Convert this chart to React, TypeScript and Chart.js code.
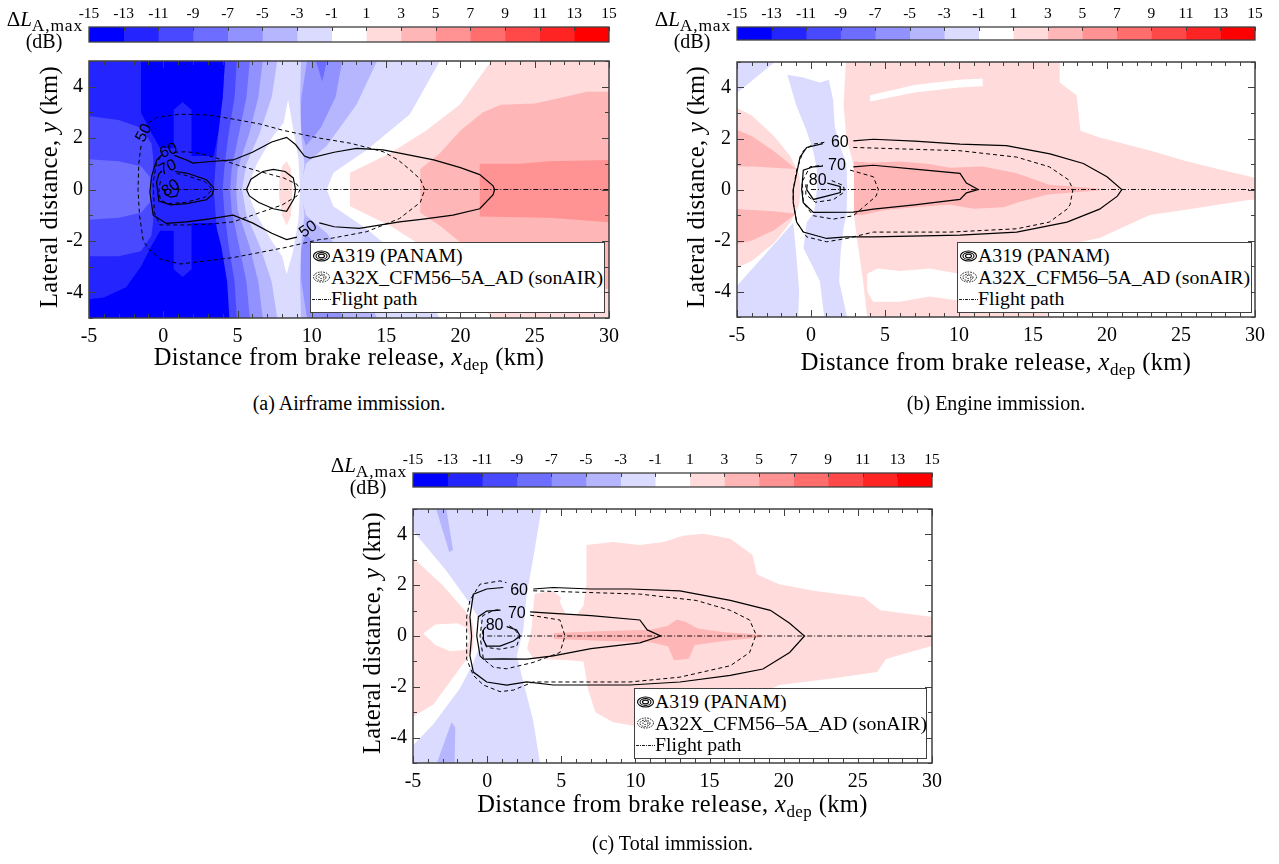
import React, { useEffect, useRef } from 'react';
import { Chart, registerables } from 'chart.js';
Chart.register(...registerables);

// ---------- colour scale ----------
const CB_EDGES = [-15, -13, -11, -9, -7, -5, -3, -1, 1, 3, 5, 7, 9, 11, 13, 15];
const CB_COLORS = ['#0000ff', '#2424ff', '#4949ff', '#6d6dff', '#9292ff', '#b6b6ff', '#dbdbff', '#ffffff',
  '#ffdbdb', '#ffb6b6', '#ff9292', '#ff6d6d', '#ff4949', '#ff2424', '#ff0000'];
const X_TICKS = [-5, 0, 5, 10, 15, 20, 25, 30];
const Y_TICKS = [-4, -2, 0, 2, 4];
const LEGEND_ITEMS = ['A319 (PANAM)', 'A32X_CFM56\u20135A_AD (sonAIR)', 'Flight path'];
const FLIGHT_PATH = [[0, 0], [30, 0]];

// ---------- panel (a) airframe: filled bands (x km, y km) ----------
const A_BG = [[-5.5, -5.5], [30.5, -5.5], [30.5, 5.5], [-5.5, 5.5]];
const A_PINK2 = [[17.3, 0.8], [18.6, 1.4], [20.0, 2.3], [21.5, 3.0], [22.7, 3.3], [25, 3.35], [27, 3.6], [28.5, 3.8], [30.5, 3.8], [30.5, -3.9], [27, -3.7], [24, -3.5], [22.5, -3.2], [20.5, -2.3], [18.6, -1.4], [17.3, -0.9]];
const A_PINK3 = [[21.3, 1.0], [24, 1.0], [26, 1.1], [30.5, 1.15], [30.5, -1.3], [26, -1.1], [21.3, -1.05]];
const A_WHITE = [[22.7, 5.5], [19.97, 3.31], [17.7, 2.3], [15.26, 1.41], [12.57, 0.65], [12.57, -0.65], [15.26, -1.41], [17.7, -2.3], [19.97, -3.31], [22.7, -5.5], [-5.5, -5.5], [-5.5, 5.5]];
const A_LAV = [[19.1, 5.5], [16.6, 2.93], [13.69, 1.54], [11.45, 0.65], [11.0, 0], [11.45, -0.65], [13.69, -1.54], [16.6, -2.93], [19.1, -5.5], [-5.5, -5.5], [-5.5, 5.5]];
const A_B6 = [[14.8, 5.5], [13.0, 3.3], [11.0, 1.7], [9.6, 1.0], [9.3, 0.3], [9.3, -0.3], [9.6, -1.0], [11.0, -1.7], [13.0, -3.3], [14.8, -5.5], [-5.5, -5.5], [-5.5, 5.5]];
const A_WEDGE_UP = [[9.8, 5.5], [12.2, 5.5], [11.6, 3.6], [10.6, 2.4], [9.6, 1.7], [9.2, 2.4], [9.3, 3.6]];
const A_WEDGE_LO = [[9.8, -5.5], [12.2, -5.5], [11.6, -3.6], [10.6, -2.4], [9.6, -1.7], [9.2, -2.4], [9.3, -3.6]];
const A_WEDGE_CORE = [[10.0, 5.5], [11.2, 5.5], [10.7, 4.2]];
const A_HALO = [[7.6, 5.5], [9.3, 5.5], [9.2, 3.5], [9.3, 2.0], [9.5, 1.0], [9.3, 0], [9.5, -1.0], [9.3, -2.0], [9.2, -3.5], [9.3, -5.5], [7.6, -5.5], [6.0, -2.5], [5.3, -0.5], [5.3, 0.5], [6.0, 2.5]];
const A_ISLAND = [[5.6, 0], [6.3, 1.0], [7.3, 2.0], [8.1, 2.6], [8.4, 3.5], [8.7, 2.5], [9.1, 1.2], [9.2, 0], [9.1, -1.2], [8.7, -2.5], [8.3, -3.3], [8.0, -2.6], [7.3, -2.0], [6.3, -1.0]];
const A_ISLAND_PINK = [[7.8, 0.3], [8.0, 0.9], [8.3, 1.1], [8.6, 0.8], [8.7, 0], [8.6, -1.0], [8.3, -1.4], [8.0, -1.0], [7.8, -0.3]];
const A_D2 = [[7.8, 5.5], [7.3, 3.6], [6.5, 2.2], [5.6, 1.0], [5.3, 0], [5.6, -1.0], [6.5, -2.2], [7.3, -3.6], [7.8, -5.5], [-5.5, -5.5], [-5.5, 5.5]];
const A_D3 = [[6.8, 5.5], [6.4, 3.6], [5.8, 2.2], [5.0, 0.8], [4.9, 0], [5.0, -0.8], [5.8, -2.2], [6.4, -3.6], [6.8, -5.5], [-5.5, -5.5], [-5.5, 5.5]];
const A_D4 = [[5.9, 5.5], [5.6, 3.6], [5.1, 2.2], [4.6, 0.8], [4.5, 0], [4.6, -0.8], [5.1, -2.2], [5.6, -3.6], [5.9, -5.5], [-5.5, -5.5], [-5.5, 5.5]];
const A_D5 = [[5.0, 5.5], [4.8, 3.6], [4.4, 2.2], [4.1, 0.8], [4.0, 0], [4.1, -0.8], [4.4, -2.2], [4.8, -3.6], [5.0, -5.5], [-5.5, -5.5], [-5.5, 5.5]];
const A_D6 = [[4.2, 5.5], [4.0, 3.6], [3.7, 2.2], [3.5, 0.8], [3.4, 0], [3.5, -0.8], [3.7, -2.2], [4.0, -3.6], [4.3, -5.5], [-5.5, -5.5], [-5.5, 5.5]];
const A_LC1 = [[-5.5, 2.9], [-3, 2.7], [-1.5, 2.4], [-0.8, 1.8], [-0.6, 0.9], [-0.6, -0.9], [-0.8, -1.8], [-1.5, -2.4], [-3, -2.6], [-5.5, -2.6]];
const A_LC2 = [[-5.5, 1.2], [-3, 1.1], [-1.5, 0.9], [-0.9, 0.5], [-0.9, -0.5], [-1.5, -0.9], [-3, -1.1], [-5.5, -1.2]];
const A_DB_TOP = [[-1.5, 5.5], [4.2, 5.5], [4.0, 3.6], [3.7, 2.2], [3.4, 1.3], [1.9, 1.3], [1.9, 3.1], [1.3, 3.4], [0.7, 3.1], [0.7, 1.6], [-0.2, 1.6], [-0.8, 2.2], [-1.5, 3.0]];
const A_DB_BOT = [[-5.5, -5.5], [4.5, -5.5], [4.3, -3.6], [3.9, -2.2], [3.5, -1.3], [1.9, -1.3], [1.9, -3.1], [1.3, -3.4], [0.7, -3.1], [0.7, -1.6], [-0.2, -1.6], [-0.8, -2.2], [-1.5, -3.0], [-2.5, -3.8], [-4, -4.2], [-5.5, -4.3]];
const A_CC = [[-0.6, 1.6], [0.7, 1.6], [1.9, 1.3], [3.4, 1.3], [3.4, -1.3], [1.9, -1.3], [0.7, -1.6], [-0.6, -1.6], [-0.8, 0]];

// panel (a) contour lines (null = gap for a label)
const A_SOL_OUT = [[0.75, 1.33], [1.57, 1.15], [2.0, 1.03], [3.0, 1.08], [4.7, 1.15], [6.0, 1.45], [7.3, 1.85], [8.3, 2.03], [8.9, 1.75], [9.5, 1.3], [9.87, 1.22], [11.5, 1.45], [13.0, 1.6], [14.8, 1.54], [16.5, 1.35], [18.2, 1.15], [20.0, 0.85], [21.3, 0.58], [22.2, 0.14], [22.3, 0], [22.2, -0.2], [21.3, -0.75], [19.5, -1.0], [17.5, -1.15], [15.9, -1.26], [13.2, -1.51], [11.5, -1.45], [10.5, -1.3], null, [9.0, -1.85], [8.3, -1.95], [7.3, -1.7], [6.0, -1.3], [4.7, -1.0], [3.0, -1.15], [1.57, -1.26], [0.22, -1.32], [-0.68, -1.0], [-0.9, -0.1], [-0.78, 0.52], [-0.45, 1.15], [-0.1, 1.35]];
const A_DASH_50 = [[-1.5, 1.7], [-1.65, 1.0], [-1.7, 0], [-1.6, -1.0], [-1.35, -2.0], [-1.0, -2.3], [-0.22, -2.7], [1.12, -2.9], [4.7, -2.65], [8.1, -2.27], [10.5, -1.95], [11.4, -1.89], [13.7, -1.64], [15.9, -1.13], [17.3, -0.5], [17.6, 0], [17.3, 0.4], [16.6, 0.77], [15.8, 1.15], [14.8, 1.47], [12.6, 1.8], [10.5, 2.0], [8.08, 2.3], [6.5, 2.55], [4.7, 2.74], [3, 2.9], [1.12, 2.93], [-0.45, 2.8], [-1.0, 2.6]];
const A_DASH_60 = [[0.75, 1.45], [1.57, 1.47], [2.5, 1.4], [3.6, 1.22], [5.0, 0.95], [6.5, 0.7], [8.1, 0.45], [9.0, 0.2], [9.2, 0], [9.0, -0.25], [8.0, -0.6], [6.5, -0.9], [4.7, -1.26], [3, -1.35], [1.57, -1.38], [-0.22, -1.38], [-0.6, -0.9], [-0.68, 0.27], [-0.45, 1.03], [-0.1, 1.35]];
const A_SOL_70 = [[0.8, 0.7], [1.57, 0.64], [2.9, 0.38], [3.4, 0.06], [3.3, -0.2], [2.9, -0.4], [1.57, -0.55], [0.5, -0.6], [-0.3, -0.45], [-0.45, 0.27], [-0.3, 0.6], [-0.1, 0.72]];
const A_DASH_70 = [[0.9, 0.62], [1.5, 0.55], [2.8, 0.3], [3.3, 0], [2.8, -0.3], [1.5, -0.5], [0.3, -0.55], [-0.2, -0.4], [-0.3, 0], [-0.15, 0.45]];
const A_SOL_ISL = [[5.6, 0], [5.9, 0.4], [6.7, 0.7], [7.4, 0.78], [8.2, 0.7], [8.75, 0.45], [8.9, 0], [8.8, -0.35], [8.3, -0.85], [7.4, -0.75], [6.4, -0.5], [5.8, -0.25], [5.6, 0]];
const A_SOL_80 = [[0.9, 0.25], [1.05, 0], [0.9, -0.25], [0.5, -0.3], [0.15, -0.2], [0.05, 0]];

// ---------- panel (b) engine ----------
const B_BG = [[-5.5, -5.5], [30.5, -5.5], [30.5, 5.5], [-5.5, 5.5]];
const B_WHITE_UR = [[16.8, 5.5], [16.8, 4.2], [17.95, 3.7], [18.2, 2.3], [19.5, 2.04], [22.9, 1.53], [25.2, 1.14], [27.5, 0.8], [29.7, 0.5], [30.5, 0.38], [30.5, 5.5]];
const B_WHITE_LR = [[30.5, -0.4], [29.7, -0.4], [27.5, -0.6], [25.2, -0.8], [22.9, -1.0], [21, -1.5], [19.5, -1.9], [17, -2.2], [16, -2.4], [16, -5.5], [30.5, -5.5]];
const B_WHITE_LM = [[3.8, -3.3], [4.5, -3.1], [6, -3.2], [8, -3.1], [10, -3.3], [12, -3.2], [16, -3.0], [16, -4.6], [12, -4.6], [10, -4.35], [8, -4.2], [6, -4.4], [4.2, -4.4], [3.8, -4.0]];
const B_WHITE_STREAK = [[4.0, 3.45], [7, 3.8], [10, 4.0], [11.6, 4.05], [11.6, 4.35], [10, 4.3], [7, 4.1], [4.0, 3.7]];
const B_WHITE_LEFT = [[-5.5, 5.5], [2.4, 5.5], [2.2, 3.3], [2.4, 2.0], [2.86, 1.0], [3.0, 0], [2.9, -1.0], [3.2, -2.3], [3.5, -3.5], [3.9, -5.5], [-5.5, -5.5]];
const B_PINK_LEFT = [[-5.5, 3.35], [-4, 2.9], [-2.5, 2.1], [-1.4, 1.3], [-0.8, 0.6], [-0.7, 0], [-0.8, -0.6], [-1.4, -1.3], [-2.5, -2.1], [-4, -2.8], [-5.5, -3.2]];
const B_PINK2_UP = [[-5.5, 2.45], [-4, 2.1], [-2.5, 1.5], [-1.0, 0.8], [-2.5, 0.85], [-4, 0.9], [-5.5, 0.9]];
const B_PINK2_LO = [[-5.5, -0.75], [-4, -0.8], [-2.5, -0.85], [-1.0, -0.95], [-2.5, -1.6], [-4, -2.0], [-5.5, -2.2]];
const B_LAV_TL = [[-5.5, 5.5], [-1.4, 5.5], [-5.5, 3.55]];
const B_LAV_BL = [[-5.5, -5.5], [-0.9, -5.5], [-0.8, -4.0], [-1.0, -2.5], [-1.2, -1.3], [-5.5, -4.1]];
const B_LAV_FLAME = [[-1.6, 4.5], [-0.6, 4.4], [0.6, 4.2], [1.2, 4.3], [1.5, 3.5], [1.6, 2.5], [1.9, 1.8], [2.4, 1.0], [2.45, 0], [2.4, -1.0], [2.2, -1.5], [2.0, -2.5], [1.9, -3.6], [2.4, -4.9], [2.5, -5.5], [1.0, -5.5], [0.6, -3.6], [-0.5, -2.3], [-0.3, -1.3], [0.2, -0.9], [0.4, 0], [0.4, 0.8], [0.15, 1.5], [-0.3, 2.3], [-1.0, 3.3]];
const B_PINK2_C = [[2.9, 1.1], [4, 1.05], [6, 1.1], [8, 1.0], [9.4, 0.85], [11.6, 0.9], [13.9, 0.64], [16.1, 0.19], [19.5, 0.03], [19.5, -0.03], [16, -0.2], [14, -0.5], [13, -0.7], [11, -0.75], [9.4, -0.6], [7, -0.7], [5, -0.8], [3.5, -1.0], [2.9, -1.0]];

const B_SOL_60 = [[2.86, 1.91], [4.21, 1.97], [7, 1.9], [10.07, 1.78], [13.2, 1.72], [16.15, 1.4], [18.4, 1.02], [20.0, 0.5], [21.0, 0], [20.7, -0.26], [19.5, -0.77], [17.3, -1.28], [13.9, -1.67], [10.07, -1.79], [4.21, -1.86], [2.41, -1.86], [1.06, -1.92], [-0.52, -1.67], [-0.97, -1.28], [-1.2, -0.52], [-1.2, 0], [-0.97, 0.63], [-0.74, 1.27], [-0.29, 1.65], [0.8, 1.8]];
const B_DASH_60 = [[2.86, 1.65], [10.07, 1.52], [13.9, 1.27], [16.1, 0.89], [17.4, 0.38], [17.7, 0], [17.5, -0.6], [17.3, -0.77], [16.1, -1.28], [13.9, -1.54], [9.4, -1.67], [4.21, -1.67], [2.41, -1.92], [1.06, -2.05], [-0.29, -1.86], [-0.97, -1.28], [-1.2, -0.5], [-1.2, 0], [-0.97, 0.76], [-0.52, 1.52], [0.16, 1.78], [0.9, 1.85]];
const B_SOL_70 = [[2.86, 0.89], [4.21, 0.95], [7, 0.8], [10.07, 0.63], [10.5, 0.25], [11.3, 0], [10.5, -0.13], [10.07, -0.39], [7, -0.6], [4.21, -0.77], [2.86, -0.89], [0.16, -0.9], [-0.52, -0.52], [-0.63, 0], [-0.52, 0.76], [0.16, 0.89], [0.8, 0.92]];
const B_DASH_70 = [[2.64, 0.76], [4.21, 0.5], [4.55, 0], [4.4, -0.26], [2.86, -1.03], [1.51, -1.16], [0.16, -1.03], [-0.52, -0.52], [-0.6, 0.3], [-0.07, 0.89], [0.8, 0.95]];
const B_SOL_80 = [[1.1, 0.25], [1.96, 0.12], [2.0, 0], [1.96, -0.12], [1.06, -0.26], [0.16, -0.39], [-0.29, 0], [-0.25, 0.2]];
const B_DASH_80 = [[1.4, 0.35], [2.2, 0.15], [2.25, -0.1], [1.5, -0.4], [0.3, -0.5], [-0.35, -0.2], [-0.35, 0.2]];

// ---------- panel (c) total ----------
const C_BG = [[-5.5, -5.5], [30.5, -5.5], [30.5, 5.5], [-5.5, 5.5]];
const C_PINK_RIGHT = [[3.2, 1.65], [4.46, 1.78], [5.0, 1.5], [6.7, 2.0], [6.7, 3.58], [8.5, 3.7], [10.3, 3.58], [11.9, 3.7], [13.2, 3.95], [14.6, 4.03], [16.4, 3.83], [17.9, 3.19], [18.2, 2.42], [19.7, 2.04], [22.0, 1.78], [25.4, 1.53], [26.5, 1.01], [29.9, 0.76], [30.5, 0.76], [30.5, -0.4], [29.9, -0.4], [26.9, -0.91], [26.3, -1.42], [23.1, -1.68], [19.7, -1.93], [18, -2.4], [15, -2.9], [13, -3.4], [10.5, -3.6], [8.5, -3.4], [7.3, -3.0], [6.8, -2.1], [6.5, -1.0], [5.5, -0.95], [3.1, -0.9], [2.7, -0.5], [3.0, 0.3]];
const C_NOTCH = [[4.9, 1.35], [5.3, 0.85], [6.0, 0.8], [6.5, 1.2], [6.7, 2.1], [5.4, 2.2]];
const C_LAV = [[-5.5, 5.5], [3.8, 5.5], [3.11, 3.07], [2.67, 1.65], [2.44, 0.24], [2.0, -0.78], [2.44, -1.81], [3.11, -3.35], [3.7, -5.5], [-5.5, -5.5], [-5.5, -4.6], [-3.63, -3.47], [-1.83, -2.06], [-0.93, -1.04], [-0.5, -0.4], [-0.4, 0.3], [-0.48, 0.63], [-1.16, 1.27], [-2.73, 2.55], [-5.5, 4.5]];
const C_PINK_LEFT = [[-5.5, 3.35], [-3, 2.0], [-1.5, 1.0], [-1.0, 0.6], [-0.9, 0], [-1.0, -0.6], [-1.38, -0.91], [-3.63, -2.7], [-5.5, -3.35]];
const C_WHITE_BLOB = [[-4.3, 0.1], [-3.5, 0.45], [-2.0, 0.5], [-1.3, 0.3], [-1.2, -0.2], [-1.5, -0.55], [-2.5, -0.6], [-3.5, -0.35]];
const C_STREAK_UP = [[-3.7, 5.5], [-2.9, 5.5], [-2.3, 3.4], [-2.55, 3.3]];
const C_STREAK_LO = [[-3.7, -5.5], [-2.2, -5.5], [-2.15, -3.6], [-2.4, -3.4]];
const C_PINK2 = [[4.5, 0.12], [8, 0.2], [11, 0.25], [12.2, 0.4], [12.8, 0.65], [13.4, 0.55], [14.2, 0.3], [16, 0.15], [18.5, 0.05], [18.5, -0.05], [16, -0.2], [14, -0.35], [13.6, -0.9], [12.6, -0.95], [12.2, -0.4], [11, -0.25], [8, -0.2], [4.5, -0.12]];

const C_SOL_60 = [[3.11, 1.85], [4.46, 1.91], [7, 1.85], [9.63, 1.85], [13.0, 1.78], [16.4, 1.4], [19.1, 1.01], [20.4, 0.5], [21.4, 0], [20.4, -0.65], [18.6, -1.3], [16.4, -1.55], [13.0, -1.81], [9.63, -1.93], [4.46, -1.93], [2.67, -1.81], [1.32, -1.93], [-0.03, -1.81], [-0.93, -1.42], [-1.16, -0.78], [-1.05, 0], [-1.16, 0.76], [-0.93, 1.65], [-0.03, 1.85], [1.09, 1.91]];
const C_DASH_60 = [[3.11, 1.78], [10.3, 1.65], [14.1, 1.4], [16.4, 1.01], [17.7, 0.63], [18.1, 0.1], [18.1, 0], [17.7, -0.65], [16.4, -1.17], [13.0, -1.62], [9.63, -1.81], [4.46, -1.81], [3.11, -1.81], [1.77, -2.13], [0.87, -2.19], [-0.25, -1.93], [-0.93, -1.55], [-1.38, -0.91], [-1.38, 0], [-1.38, 0.76], [-1.16, 1.4], [-0.48, 2.04], [0.87, 2.17], [1.3, 2.1]];
const C_SOL_70 = [[2.9, 0.95], [4.46, 0.89], [7, 0.8], [10.3, 0.63], [10.8, 0.24], [11.7, 0.0], [10.3, -0.27], [7, -0.5], [4.46, -0.78], [2.67, -0.91], [1.0, -0.9], [-0.25, -0.91], [-0.48, -0.78], [-0.7, 0], [-0.59, 0.76], [-0.03, 0.98], [0.9, 1.02]];
const C_DASH_70 = [[2.9, 0.82], [4.91, 0.63], [5.25, 0], [4.91, -0.65], [3.11, -1.04], [1.32, -1.29], [0.42, -1.23], [-0.25, -0.91], [-0.48, 0], [-0.3, 0.8], [0.4, 1.0], [0.9, 1.05]];
const C_SOL_80 = [[1.32, 0.37], [1.99, 0.24], [2.22, 0], [1.77, -0.2], [0.87, -0.4], [-0.03, -0.4], [-0.25, -0.15], [-0.25, 0.24], [-0.1, 0.35]];
const C_DASH_80 = [[1.5, 0.4], [1.77, 0.3], [2.22, 0.0], [1.99, -0.4], [0.87, -0.52], [-0.03, -0.45], [-0.3, -0.1], [-0.3, 0.3]];

// ---------- tables built from the arrays ----------
const A_FILLS = [
  { c: 8, p: A_BG }, { c: 9, p: A_PINK2 }, { c: 10, p: A_PINK3 }, { c: 7, p: A_WHITE }, { c: 6, p: A_LAV },
  { c: 5, p: A_B6 }, { c: 4, p: A_WEDGE_UP }, { c: 4, p: A_WEDGE_LO }, { c: 3, p: A_WEDGE_CORE },
  { c: 6, p: A_HALO }, { c: 7, p: A_ISLAND }, { c: 8, p: A_ISLAND_PINK },
  { c: 5, p: A_D2 }, { c: 4, p: A_D3 }, { c: 3, p: A_D4 }, { c: 2, p: A_D5 }, { c: 1, p: A_D6 },
  { c: 2, p: A_LC1 }, { c: 3, p: A_LC2 }, { c: 0, p: A_DB_TOP }, { c: 0, p: A_DB_BOT }, { c: 1, p: A_CC },
];
const A_LINES = [
  { p: A_SOL_OUT, d: false }, { p: A_DASH_50, d: true }, { p: A_DASH_60, d: true }, { p: A_SOL_70, d: false },
  { p: A_DASH_70, d: true }, { p: A_SOL_ISL, d: false }, { p: A_SOL_80, d: false },
];
const A_LABELS = [
  { t: '50', x: -1.3, y: 2.2, r: -62 }, { t: '60', x: 0.35, y: 1.5, r: -20 }, { t: '70', x: 0.3, y: 0.85, r: -25 },
  { t: '80', x: 0.5, y: 0.05, r: -35 }, { t: '50', x: 9.75, y: -1.55, r: -35 },
];
const B_FILLS = [
  { c: 8, p: B_BG }, { c: 7, p: B_WHITE_UR }, { c: 7, p: B_WHITE_LR }, { c: 7, p: B_WHITE_LM }, { c: 7, p: B_WHITE_STREAK },
  { c: 7, p: B_WHITE_LEFT }, { c: 8, p: B_PINK_LEFT }, { c: 9, p: B_PINK2_UP }, { c: 9, p: B_PINK2_LO },
  { c: 6, p: B_LAV_TL }, { c: 6, p: B_LAV_BL }, { c: 6, p: B_LAV_FLAME }, { c: 9, p: B_PINK2_C },
];
const B_LINES = [
  { p: B_SOL_60, d: false }, { p: B_DASH_60, d: true }, { p: B_SOL_70, d: false }, { p: B_DASH_70, d: true },
  { p: B_SOL_80, d: false }, { p: B_DASH_80, d: true },
];
const B_LABELS = [{ t: '60', x: 1.95, y: 1.82, r: 0 }, { t: '70', x: 1.75, y: 0.92, r: 0 }, { t: '80', x: 0.45, y: 0.33, r: 0 }];
const C_FILLS = [
  { c: 7, p: C_BG }, { c: 8, p: C_PINK_RIGHT }, { c: 7, p: C_NOTCH }, { c: 6, p: C_LAV }, { c: 8, p: C_PINK_LEFT },
  { c: 7, p: C_WHITE_BLOB }, { c: 5, p: C_STREAK_UP }, { c: 5, p: C_STREAK_LO }, { c: 9, p: C_PINK2 },
];
const C_LINES = [
  { p: C_SOL_60, d: false }, { p: C_DASH_60, d: true }, { p: C_SOL_70, d: false }, { p: C_DASH_70, d: true },
  { p: C_SOL_80, d: false }, { p: C_DASH_80, d: true },
];
const C_LABELS = [{ t: '60', x: 2.15, y: 1.8, r: 0 }, { t: '70', x: 2.0, y: 0.88, r: 0 }, { t: '80', x: 0.5, y: 0.42, r: 0 }];

// ---------- geometry (pixels) ----------
const GEOM_A = { L: 89, R: 609, T: 55, B: 318, CBT: 27, CBB: 42, lg: [310, 242, 295, 71], cap: '(a) Airframe immission.', capY: 403, yT: 49, xTb: 365 };
const GEOM_B = { L: 737, R: 1255, T: 56, B: 317, CBT: 27, CBB: 40, lg: [957, 242, 295, 71], cap: '(b) Engine immission.', capY: 403, yT: 696, xTb: 370 };
const GEOM_C = { L: 413, R: 932, T: 503, B: 763, CBT: 473, CBB: 487, lg: [634, 688, 293, 71], cap: '(c) Total immission.', capY: 843, yT: 372, xTb: 812 };

const SERIF = '"Liberation Serif", "Times New Roman", serif';

function toXY(pts) {
  const out = [];
  let prev = null;
  for (const p of pts) {
    if (p) { out.push({ x: p[0], y: p[1] }); prev = p; }
    else out.push({ x: prev ? prev[0] : 0, y: null });
  }
  return out;
}

function Panel({ g, fills, lines, labels }) {
  const mainRef = useRef(null);
  const cbRef = useRef(null);
  const cw = g.R - g.L + 90;
  const mainH = g.B - g.T + 52;
  const cbH = g.CBB - g.CBT + 34;

  useEffect(() => {
    const n = fills.length;
    const datasets = [];
    fills.forEach((f, i) => {
      datasets.push({
        data: toXY(f.p), fill: 'shape', backgroundColor: CB_COLORS[f.c], borderColor: 'rgba(0,0,0,0)',
        borderWidth: 0, pointRadius: 0, order: 100 + (n - i), spanGaps: false,
      });
    });
    lines.forEach((l) => {
      datasets.push({
        data: toXY(l.p), fill: false, borderColor: '#000', borderWidth: l.d ? 1 : 1.2,
        borderDash: l.d ? [4, 3] : [], pointRadius: 0, order: 2, spanGaps: false,
      });
    });
    datasets.push({
      data: toXY(FLIGHT_PATH), fill: false, borderColor: '#000', borderWidth: 0.9,
      borderDash: [5, 2, 1, 2], pointRadius: 0, order: 1,
    });

    const framePlugin = {
      id: 'mapFrame',
      afterDatasetsDraw(chart) {
        const { ctx, chartArea: a, scales } = chart;
        const xs = scales.x, ys = scales.y;
        ctx.save();
        ctx.font = '16px "Liberation Sans", Arial, sans-serif';
        ctx.fillStyle = '#000';
        ctx.textAlign = 'center';
        ctx.textBaseline = 'middle';
        for (const lb of labels) {
          ctx.save();
          ctx.translate(xs.getPixelForValue(lb.x), ys.getPixelForValue(lb.y));
          ctx.rotate((lb.r * Math.PI) / 180);
          ctx.fillText(lb.t, 0, 0);
          ctx.restore();
        }
        ctx.strokeStyle = '#404040';
        ctx.lineWidth = 1;
        ctx.beginPath();
        for (let v = -5; v <= 30; v += 1) {
          const px = Math.round(xs.getPixelForValue(v)) + 0.5;
          const len = v % 5 === 0 ? 7 : 4;
          ctx.moveTo(px, a.bottom); ctx.lineTo(px, a.bottom - len);
          ctx.moveTo(px, a.top); ctx.lineTo(px, a.top + len);
        }
        for (let v = -5; v <= 5; v += 1) {
          const py = Math.round(ys.getPixelForValue(v)) + 0.5;
          const len = v % 2 === 0 ? 7 : 4;
          ctx.moveTo(a.left, py); ctx.lineTo(a.left + len, py);
          ctx.moveTo(a.right, py); ctx.lineTo(a.right - len, py);
        }
        ctx.stroke();
        ctx.lineWidth = 1.5;
        ctx.strokeRect(a.left, a.top, a.right - a.left, a.bottom - a.top);
        ctx.restore();
      },
    };

    const tickFont = { family: SERIF, size: 20 };
    const main = new Chart(mainRef.current, {
      type: 'line',
      data: { datasets },
      options: {
        animation: false, responsive: false, devicePixelRatio: 1, events: [],
        layout: { padding: { left: 10, top: 12, right: 30, bottom: 0 } },
        plugins: { legend: { display: false }, tooltip: { enabled: false } },
        elements: { point: { radius: 0, hitRadius: 0 }, line: { tension: 0 } },
        scales: {
          x: {
            type: 'linear', min: -5, max: 30,
            afterBuildTicks: (s) => { s.ticks = X_TICKS.map((v) => ({ value: v })); },
            afterFit: (s) => { s.height = 40; },
            grid: { display: false, drawTicks: false }, border: { display: false },
            ticks: { font: tickFont, color: '#000', padding: 6.5, maxRotation: 0, autoSkip: false, callback: (v) => String(v) },
          },
          y: {
            type: 'linear', min: -5, max: 5,
            afterBuildTicks: (s) => { s.ticks = Y_TICKS.map((v) => ({ value: v })); },
            afterFit: (s) => { s.width = 50; },
            grid: { display: false, drawTicks: false }, border: { display: false },
            ticks: { font: tickFont, color: '#000', padding: 6, autoSkip: false, callback: (v) => String(v) },
          },
        },
      },
      plugins: [framePlugin],
    });

    const cbPlugin = {
      id: 'cbFrame',
      afterDatasetsDraw(chart) {
        const { ctx, chartArea: a, scales } = chart;
        ctx.save();
        ctx.strokeStyle = '#404040';
        ctx.lineWidth = 1;
        ctx.beginPath();
        for (const v of CB_EDGES) {
          const px = Math.round(scales.x.getPixelForValue(v)) + 0.5;
          ctx.moveTo(px, a.top); ctx.lineTo(px, a.top + 4);
        }
        ctx.stroke();
        ctx.lineWidth = 1.3;
        ctx.strokeRect(a.left, a.top, a.right - a.left, a.bottom - a.top);
        ctx.restore();
      },
    };
    const cb = new Chart(cbRef.current, {
      type: 'bar',
      data: {
        labels: ['dL'],
        datasets: CB_COLORS.map((c, i) => ({
          data: [[CB_EDGES[i], CB_EDGES[i + 1]]], backgroundColor: c, borderWidth: 0,
          grouped: false, barPercentage: 1, categoryPercentage: 1,
        })),
      },
      options: {
        indexAxis: 'y', animation: false, responsive: false, devicePixelRatio: 1, events: [],
        layout: { padding: { left: 60, right: 30, top: 0, bottom: 4 } },
        plugins: { legend: { display: false }, tooltip: { enabled: false } },
        scales: {
          x: {
            type: 'linear', position: 'top', min: -15, max: 15,
            afterBuildTicks: (s) => { s.ticks = CB_EDGES.map((v) => ({ value: v })); },
            afterFit: (s) => { s.height = 30; },
            grid: { display: false, drawTicks: false }, border: { display: false },
            ticks: { font: { family: SERIF, size: 15.5 }, color: '#000', padding: 4, maxRotation: 0, autoSkip: false, callback: (v) => String(v) },
          },
          y: { display: false },
        },
      },
      plugins: [cbPlugin],
    });
    return () => { main.destroy(); cb.destroy(); };
  }, []);

  const [lx, ly, lw, lh] = g.lg;
  const abs = { position: 'absolute' };
  const cx = (g.L + g.R) / 2;
  return (
    <>
      <canvas ref={cbRef} width={cw} height={cbH} style={{ ...abs, left: g.L - 60, top: g.CBT - 30, width: cw, height: cbH }} />
      <canvas ref={mainRef} width={cw} height={mainH} style={{ ...abs, left: g.L - 60, top: g.T - 12, width: cw, height: mainH }} />
      {/* colour-bar title */}
      <div style={{ ...abs, left: g.L - 110, width: 104, top: g.CBT - 18, textAlign: 'right', fontSize: 21, lineHeight: '20px', whiteSpace: 'nowrap' }}>
        {'\u0394'}<i>L</i><span style={{ fontSize: 17.5, letterSpacing: 0.8, position: 'relative', top: 4.5 }}>A,max</span>
      </div>
      <div style={{ ...abs, left: g.L - 72, width: 54, top: g.CBT + 4, textAlign: 'center', fontSize: 20, lineHeight: '20px' }}>(dB)</div>
      {/* y-axis title */}
      <div style={{ ...abs, left: g.yT - 170, top: (g.T + g.B) / 2 - 12, width: 340, textAlign: 'center', fontSize: 24.5, lineHeight: '24px', transform: 'rotate(-90deg)', whiteSpace: 'nowrap', letterSpacing: 0.4 }}>
        Lateral distance, <i>y</i> (km)
      </div>
      {/* x-axis title */}
      <div style={{ ...abs, left: cx - 260, width: 520, top: g.xTb - 20, textAlign: 'center', fontSize: 24.5, lineHeight: '24px', whiteSpace: 'nowrap', letterSpacing: 0.4 }}>
        Distance from brake release, <i>x</i><span style={{ fontSize: 17, position: 'relative', top: 5 }}>dep</span> (km)
      </div>
      {/* caption */}
      <div style={{ ...abs, left: cx - 200, width: 400, top: g.capY - 12, textAlign: 'center', fontSize: 20, lineHeight: '24px', whiteSpace: 'nowrap' }}>{g.cap}</div>
      {/* legend */}
      <div style={{ ...abs, left: lx, top: ly, width: lw, height: lh, boxSizing: 'border-box', border: '1.5px solid #404040', background: '#fff', paddingTop: 2, fontSize: 19.8 }}>
        {LEGEND_ITEMS.map((t, i) => (
          <div key={t} style={{ display: 'flex', alignItems: 'center', height: 21.5, lineHeight: '21.5px', whiteSpace: 'nowrap' }}>
            <svg width="19" height="14" style={{ flex: 'none', marginLeft: 1 }}>
              {i === 0 && (<g fill="none" stroke="#000" strokeWidth="1.1"><ellipse cx="9.5" cy="7" rx="8" ry="5" /><ellipse cx="9.5" cy="7" rx="5.5" ry="3.4" /><ellipse cx="9.5" cy="7" rx="3" ry="1.8" /></g>)}
              {i === 1 && (<g fill="none" stroke="#000" strokeWidth="0.9" strokeDasharray="1.6 1.1"><ellipse cx="9.5" cy="7" rx="8" ry="5" /><ellipse cx="9" cy="7.3" rx="5" ry="3.2" /><ellipse cx="9.5" cy="7" rx="2.6" ry="1.6" /></g>)}
              {i === 2 && (<line x1="0" y1="7.5" x2="19" y2="7.5" stroke="#000" strokeWidth="0.9" strokeDasharray="3 1 1 1" />)}
            </svg>
            <span>{t}</span>
          </div>
        ))}
      </div>
    </>
  );
}

export default function App() {
  return (
    <div style={{ position: 'absolute', left: 0, top: 0, width: 1279, height: 864, background: '#fff', fontFamily: SERIF, color: '#000', overflow: 'hidden' }}>
      <Panel g={GEOM_A} fills={A_FILLS} lines={A_LINES} labels={A_LABELS} />
      <Panel g={GEOM_B} fills={B_FILLS} lines={B_LINES} labels={B_LABELS} />
      <Panel g={GEOM_C} fills={C_FILLS} lines={C_LINES} labels={C_LABELS} />
    </div>
  );
}
